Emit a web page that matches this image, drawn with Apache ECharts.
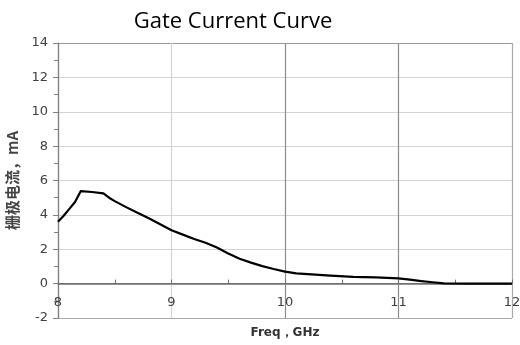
<!DOCTYPE html>
<html>
<head>
<meta charset="utf-8">
<script src="https://cdn.jsdelivr.net/npm/echarts@6/dist/echarts.min.js"></script>
<style>
  html, body { margin: 0; padding: 0; background: #fff; }
  #main { width: 520px; height: 345px; }
</style>
</head>
<body>
<div id="main"></div>
<script>
// 频率 (GHz) 和 栅极电流 (mA)
var freq = [8.0, 8.05, 8.1, 8.15, 8.2, 8.3, 8.4, 8.45, 8.5, 8.6, 8.7, 8.8, 8.9, 9.0, 9.1, 9.2, 9.3, 9.4, 9.5, 9.6, 9.7, 9.8, 9.9, 10.0, 10.1, 10.2, 10.4, 10.6, 10.8, 11.0, 11.1, 11.2, 11.3, 11.4, 11.6, 12.0];
var current = [3.6, 3.95, 4.35, 4.75, 5.38, 5.33, 5.25, 5.0, 4.8, 4.45, 4.12, 3.8, 3.45, 3.1, 2.85, 2.6, 2.38, 2.1, 1.75, 1.45, 1.22, 1.02, 0.85, 0.7, 0.6, 0.55, 0.46, 0.39, 0.36, 0.3, 0.23, 0.15, 0.08, 0.02, 0.0, 0.0];
var xTicks = [8, 9, 10, 11, 12];
var yTicks = [-2, 0, 2, 4, 6, 8, 10, 12, 14];

var pts = [];
for (var i = 0; i < freq.length; i++) {
  pts.push([freq[i], current[i]]);
}

var myChart = echarts.init(document.getElementById("main"));
var option = {
  animation: false,
  title: {
    text: "Gate Current Curve",
    left: 228,
    top: 6,
    textAlign: "center",
    textStyle: {
      fontFamily: "Open Sans",
      fontWeight: "normal",
      fontSize: 22,
      color: "#000"
    }
  },
  grid: {
    left: 58,
    right: 8,
    top: 43,
    bottom: 27,
    outerBoundsMode: "none"
  },
  xAxis: {
    type: "value",
    min: xTicks[0],
    max: xTicks[xTicks.length - 1],
    interval: 1,
    name: "Freq，GHz",
    nameLocation: "middle",
    nameGap: 9,
    nameMoveOverlap: false,
    nameTextStyle: {
      fontFamily: "DejaVu Sans",
      fontWeight: "bold",
      fontSize: 12,
      color: "#333"
    },
    axisLine: {
      onZero: true,
      lineStyle: { color: "#707070", width: 1.5 }
    },
    axisTick: { show: true, inside: true, length: 4, lineStyle: { color: "#707070" } },
    minorTick: { show: true, splitNumber: 2, length: 4, lineStyle: { color: "#707070" } },
    axisLabel: {
      fontFamily: "DejaVu Sans",
      fontSize: 13,
      color: "#404040",
      margin: -22
    },
    splitLine: {
      show: true,
      // 9 浅色, 10、11 深色
      lineStyle: { color: ["#808080", "#d4d4d4", "#8c8c8c", "#8c8c8c", "#aaaaaa"], width: 1.2 }
    }
  },
  yAxis: {
    type: "value",
    min: yTicks[0],
    max: yTicks[yTicks.length - 1],
    interval: 2,
    name: "栅极电流，mA",
    nameLocation: "middle",
    nameGap: 38,
    nameRotate: 90,
    nameTextStyle: {
      fontFamily: "Noto Sans CJK SC",
      fontWeight: "bold",
      fontSize: 15,
      color: "#444"
    },
    axisLine: {
      show: true,
      onZero: false,
      lineStyle: { color: "#808080", width: 1.2 }
    },
    axisTick: { show: true, length: 5, lineStyle: { color: "#808080" } },
    minorTick: { show: true, splitNumber: 2, length: 4, lineStyle: { color: "#808080" } },
    axisLabel: {
      fontFamily: "DejaVu Sans",
      fontSize: 13,
      color: "#404040",
      margin: 10
    },
    splitLine: {
      show: true,
      lineStyle: {
        color: ["#a8a8a8", "#707070", "#d4d4d4", "#d4d4d4", "#d4d4d4", "#d4d4d4", "#d4d4d4", "#d4d4d4", "#9a9a9a"],
        width: 1.2
      }
    }
  },
  series: [
    {
      name: "栅极电流",
      type: "line",
      data: pts,
      showSymbol: false,
      smooth: false,
      lineStyle: { color: "#000", width: 2.2, join: "round" },
      itemStyle: { color: "#000" }
    }
  ]
};
myChart.setOption(option);
</script>
</body>
</html>
